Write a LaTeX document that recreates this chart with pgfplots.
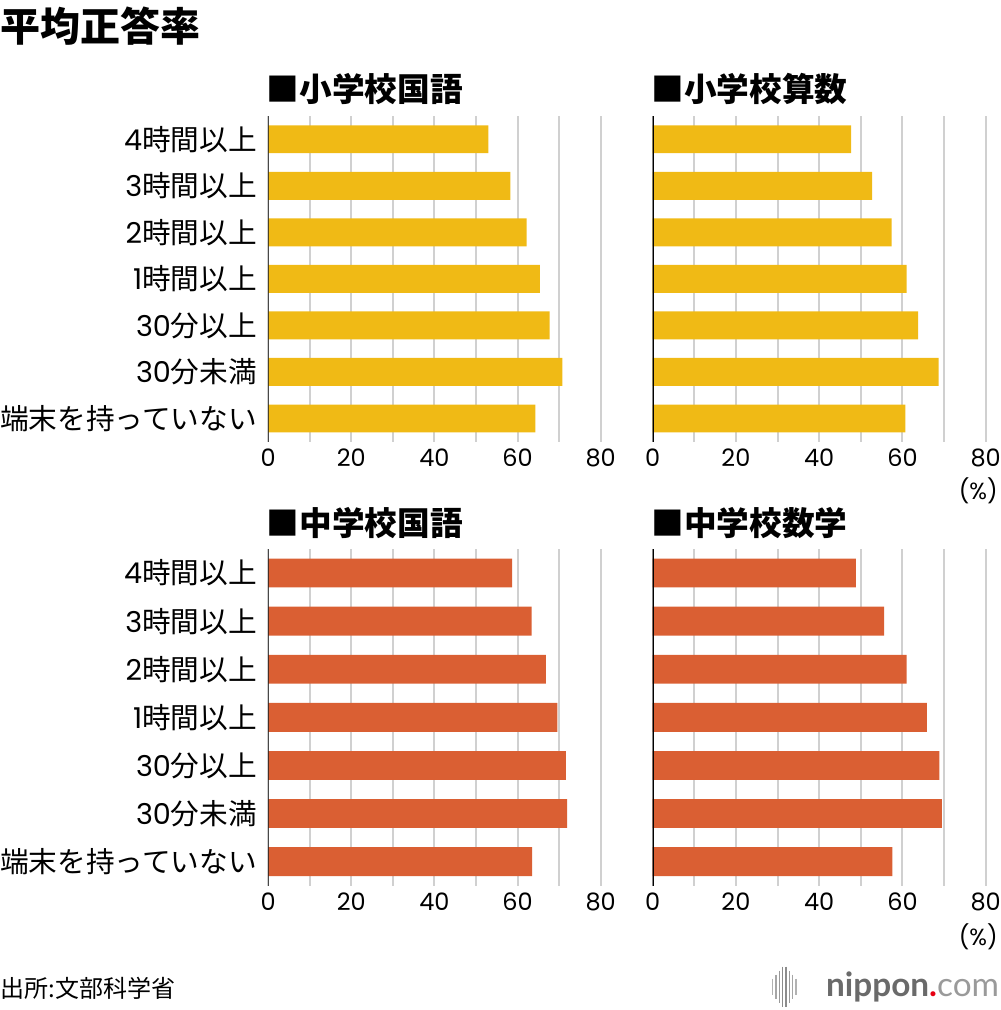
\documentclass[border=0pt]{standalone}
\usepackage{fontspec}
\setmainfont{Noto Sans CJK JP}
\newfontfamily\lato{Lato}
\newfontfamily\pop{Poppins}
\usepackage{pgfplots}
\pgfplotsset{compat=1.18}
\definecolor{ybar}{HTML}{F0BA15}
\definecolor{obar}{HTML}{DA5F33}
\definecolor{gridgray}{HTML}{D0D0D0}
\definecolor{logogray}{HTML}{6A6A6A}
\definecolor{comgray}{HTML}{9A9A9A}
\definecolor{logored}{HTML}{E60012}

\pgfplotsset{
  panel/.style={
    anchor=north west,
    scale only axis,
    xbar, bar width=0.6, bar shift=0pt,
    xmin=0, xmax=80, ymin=-0.5, ymax=6.5, y dir=reverse,
    xtick={0,20,40,60,80}, minor xtick={10,30,50,70},
    xmajorgrids, xminorgrids,
    major grid style={draw=gridgray, line width=1.5pt},
    minor grid style={draw=gridgray, line width=1.5pt},
    major tick length=0pt, minor tick length=0pt,
    ytick={0,1,2,3,4,5,6},
    axis line style={draw=none},
    /pgf/number format/assume math mode=true,
    xticklabel style={font=\pop\fontsize{18}{20}\selectfont, yshift=-2pt},
    yticklabel style={font=\fontsize{21.5}{23}\selectfont, xshift=-5pt},
  },
  leftpanel/.style={yticklabels={{{\pop 4}時間以上},{{\pop 3}時間以上},{{\pop 2}時間以上},{{\pop 1}時間以上},{{\pop 30}分以上},{{\pop 30}分未満},端末を持っていない}},
  rightpanel/.style={yticklabels={}},
}

\begin{document}
\begin{tikzpicture}
\useasboundingbox (0pt,0pt) rectangle (750pt,-757.5pt);

% main title
\node[anchor=west, inner sep=0pt, font=\fontsize{30}{32}\selectfont\bfseries] at (0pt,-19.9pt) {平均正答率};

% panel titles
\node[anchor=west, inner sep=0pt, font=\fontsize{24.5}{26}\selectfont\bfseries] at (200pt,-67.1pt) {■小学校国語};
\node[anchor=west, inner sep=0pt, font=\fontsize{24.5}{26}\selectfont\bfseries] at (488.5pt,-67.1pt) {■小学校算数};
\node[anchor=west, inner sep=0pt, font=\fontsize{24.5}{26}\selectfont\bfseries] at (200pt,-392.5pt) {■中学校国語};
\node[anchor=west, inner sep=0pt, font=\fontsize{24.5}{26}\selectfont\bfseries] at (488.5pt,-392.5pt) {■中学校数学};

% top-left: 小学校国語
\begin{axis}[panel, leftpanel, at={(201.2pt,-87pt)}, width=249.3pt, height=244.3pt]
\addplot[fill=ybar, draw=none] coordinates {(53.0,0) (58.3,1) (62.2,2) (65.4,3) (67.7,4) (70.8,5) (64.3,6)};
\draw[black, line width=1.5pt] (axis cs:0,-0.5) -- (axis cs:0,6.5);
\end{axis}

% top-right: 小学校算数
\begin{axis}[panel, rightpanel, at={(489.5pt,-87pt)}, width=249.75pt, height=244.3pt]
\addplot[fill=ybar, draw=none] coordinates {(47.7,0) (52.7,1) (57.4,2) (61.0,3) (63.8,4) (68.7,5) (60.7,6)};
\draw[black, line width=1.5pt] (axis cs:0,-0.5) -- (axis cs:0,6.5);
\end{axis}

% bottom-left: 中学校国語
\begin{axis}[panel, leftpanel, at={(201.2pt,-411.75pt)}, width=249.3pt, height=252.5pt]
\addplot[fill=obar, draw=none] coordinates {(58.7,0) (63.4,1) (66.8,2) (69.6,3) (71.6,4) (71.9,5) (63.5,6)};
\draw[black, line width=1.5pt] (axis cs:0,-0.5) -- (axis cs:0,6.5);
\end{axis}

% bottom-right: 中学校数学
\begin{axis}[panel, rightpanel, at={(489.5pt,-411.75pt)}, width=249.75pt, height=252.5pt]
\addplot[fill=obar, draw=none] coordinates {(48.8,0) (55.6,1) (61.0,2) (65.9,3) (68.9,4) (69.5,5) (57.6,6)};
\draw[black, line width=1.5pt] (axis cs:0,-0.5) -- (axis cs:0,6.5);
\end{axis}

% (%) units
\node[anchor=east, inner sep=0pt, font=\pop\fontsize{17.5}{20}\selectfont] at (748.5pt,-368.25pt) {(\%)};
\node[anchor=east, inner sep=0pt, font=\pop\fontsize{17.5}{20}\selectfont] at (748.5pt,-702.75pt) {(\%)};

% source
\node[anchor=west, inner sep=0pt, font=\fontsize{18}{20}\selectfont] at (0.5pt,-741.5pt) {出所:文部科学省};

% logo
\foreach \xx/\hh/\cc in {579.5/6/30, 582/9/35, 584.5/12/40, 587/15/45, 589.5/15/45, 592/12/40, 594.5/9/35, 597/6/30}{
  \draw[line width=1.1pt, draw=black!\cc] (\xx pt,-740pt+\hh pt) -- (\xx pt,-740pt-\hh pt);
}
\node[anchor=east, inner sep=0pt, font=\lato\fontsize{25}{27}\selectfont] at (749.5pt,-740pt)
  {\textcolor{logogray}{\bfseries nippon}\textcolor{logored}{\bfseries .}\textcolor{comgray}{com}};
\end{tikzpicture}
\end{document}
